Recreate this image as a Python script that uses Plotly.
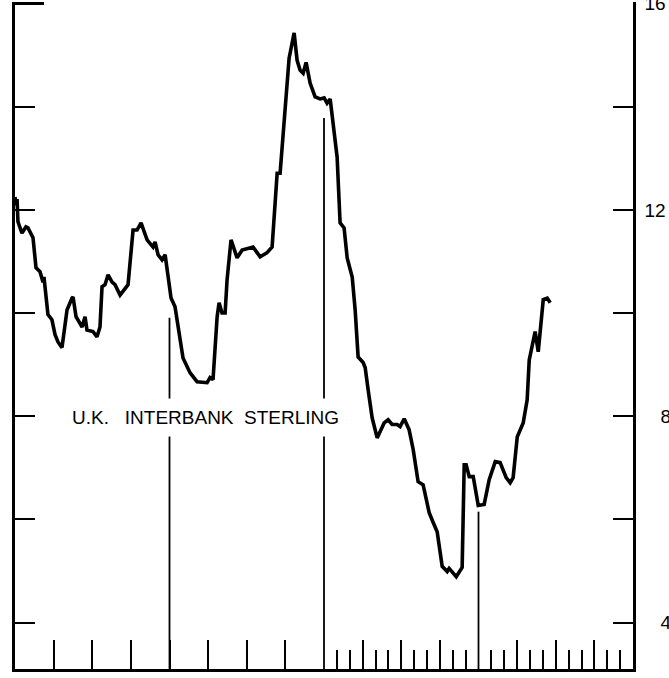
import plotly.graph_objects as go

# Time index (48 periods across the frame) and rate (%)
period = [0.00, 0.08, 0.16, 0.23, 0.54, 0.85, 1.01, 1.40, 1.63, 1.94, 2.18, 2.25, 2.56, 2.87, 3.11, 3.34,
          3.65, 4.04, 4.43, 4.51, 4.74, 5.21, 5.44, 5.59, 6.06, 6.37, 6.60, 6.76, 6.99, 7.23, 7.54, 7.77,
          8.16, 8.55, 8.78, 9.17, 9.48, 9.79, 10.26, 10.72, 10.88, 11.11, 11.42, 11.66, 12.12, 12.43, 12.82,
          13.05, 13.60, 13.83, 14.14, 14.92, 15.15, 15.38, 15.70, 15.85, 16.08, 16.32, 16.47, 16.78, 17.25,
          17.64, 17.87, 18.49, 19.04, 19.58, 19.97, 20.36, 20.59, 21.06, 21.29, 21.68, 21.91, 22.14, 22.38,
          22.61, 22.92, 23.31, 23.70, 24.01, 24.24, 24.48, 25.02, 25.25, 25.56, 25.80, 26.19, 26.42, 26.65,
          27.04, 27.20, 27.43, 27.74, 28.13, 28.67, 28.98, 29.29, 29.68, 29.91, 30.23, 30.61, 30.93, 31.31,
          31.70, 32.17, 32.48, 32.79, 33.18, 33.57, 33.72, 34.03, 34.27, 34.73, 34.89, 35.04, 35.28, 35.59,
          35.98, 36.44, 36.83, 37.30, 37.68, 38.15, 38.46, 38.69, 39.01, 39.47, 39.78, 39.94, 40.17, 40.40,
          40.64, 40.87, 41.03, 41.34, 41.57, 41.80]
rate = [12.25, 12.09, 12.21, 11.77, 11.55, 11.67, 11.65, 11.46, 10.88, 10.80, 10.60, 10.70, 9.97, 9.87, 9.58, 9.44,
        9.33, 10.06, 10.29, 10.31, 9.93, 9.73, 9.93, 9.67, 9.64, 9.54, 9.73, 10.51, 10.55, 10.74, 10.60, 10.55,
        10.35, 10.49, 10.55, 11.61, 11.61, 11.75, 11.42, 11.28, 11.38, 11.13, 11.03, 11.13, 10.29, 10.12, 9.54,
        9.13, 8.84, 8.76, 8.67, 8.65, 8.75, 8.71, 9.93, 10.20, 10.00, 10.00, 10.64, 11.42, 11.07,
        11.22, 11.24, 11.28, 11.09, 11.17, 11.28, 12.71, 12.71, 14.32, 14.94, 15.43, 14.90, 14.71, 14.65,
        14.86, 14.46, 14.19, 14.15, 14.17, 14.07, 14.15, 13.02, 11.75, 11.65, 11.07, 10.70, 10.06, 9.15,
        9.04, 8.94, 8.51, 7.97, 7.58, 7.87, 7.93, 7.84, 7.84, 7.80, 7.95, 7.74, 7.35,
        6.73, 6.67, 6.13, 5.94, 5.76, 5.09, 4.99, 5.05, 4.97, 4.89, 5.07, 7.06, 7.06, 6.83,
        6.83, 6.27, 6.29, 6.77, 7.12, 7.10, 6.81, 6.71, 6.81, 7.60, 7.87, 8.32, 9.09, 9.35,
        9.64, 9.25, 9.87, 10.26, 10.29, 10.20]

# Vertical divider lines: position and top value
divider_x = [12, 24, 36]
divider_top = [9.91, 13.78, 6.15]

y_min, y_max = 3.1, 16.03
x_min, x_max = 0, 48

# Axis tick positions
x_major_ticks = [3, 6, 9, 12, 15, 18, 21, 27, 30, 33, 39, 42, 45]
x_minor_ticks = [25, 26, 28, 29, 31, 32, 34, 35, 37, 38, 40, 41, 43, 44, 46, 47]
y_ticks = [4, 6, 8, 10, 12, 14]
y_top_tick = [16]
y_label_vals = [4, 8, 12, 16]
y_label_text = ["\u2007\u20084", "\u2007\u20088", "12", "16"]

label_text = "U.K.\u00a0\u00a0 INTERBANK\u00a0\u00a0STERLING"

div_x, div_y = [], []
for xv, top in zip(divider_x, divider_top):
    div_x += [xv, xv, None]
    div_y += [y_min, top, None]

fig = go.Figure()
fig.add_trace(go.Scatter(x=div_x, y=div_y, mode="lines",
                         line=dict(color="black", width=1.8), hoverinfo="skip"))
fig.add_trace(go.Scatter(x=period, y=rate, mode="lines",
                         line=dict(color="black", width=3.6)))
# invisible trace to activate right axis
fig.add_trace(go.Scatter(x=[None], y=[None], yaxis="y2", showlegend=False))

fig.update_layout(
    width=669, height=678,
    margin=dict(l=15, r=36, t=2, b=9, autoexpand=False),
    paper_bgcolor="white", plot_bgcolor="white",
    showlegend=False,
    font=dict(family="Liberation Sans, Arial, sans-serif", color="black"),
    xaxis=dict(range=[x_min, x_max], showline=True, linewidth=2.5, linecolor="black",
               ticks="inside", tickmode="array", tickvals=x_major_ticks, ticklen=29, tickwidth=2,
               tickcolor="black", showticklabels=False, showgrid=False, zeroline=False,
               automargin=False,
               minor=dict(tickmode="array", tickvals=x_minor_ticks, ticks="inside", ticklen=19,
                          tickwidth=2, tickcolor="black", showgrid=False)),
    yaxis=dict(range=[y_min, y_max], showline=True, linewidth=2.5, linecolor="black",
               ticks="inside", tickmode="array", tickvals=y_ticks, ticklen=20, tickwidth=2,
               tickcolor="black", showticklabels=False, showgrid=False, zeroline=False,
               automargin=False,
               minor=dict(tickmode="array", tickvals=y_top_tick, ticks="inside", ticklen=29,
                          tickwidth=2.5, tickcolor="black", showgrid=False)),
    yaxis2=dict(range=[y_min, y_max], overlaying="y", side="right", showline=True,
                linewidth=2.5, linecolor="black", ticks="", tickmode="array",
                tickvals=y_label_vals, ticktext=y_label_text, ticklabelstandoff=5,
                ticklabeloverflow="allow", automargin=False,
                tickfont=dict(size=19, color="black"), showgrid=False, zeroline=False,
                minor=dict(tickmode="array", tickvals=y_ticks, ticks="inside", ticklen=20,
                           tickwidth=2, tickcolor="black", showgrid=False)),
    annotations=[dict(x=14.76, y=7.97, xref="x", yref="y", text=label_text, showarrow=False,
                      font=dict(size=19, color="black"), bgcolor="white", borderpad=8)],
)

fig.write_html("out.html", config={"displayModeBar": False},
               post_script="document.body.style.margin='0';document.body.style.overflow='hidden';")
